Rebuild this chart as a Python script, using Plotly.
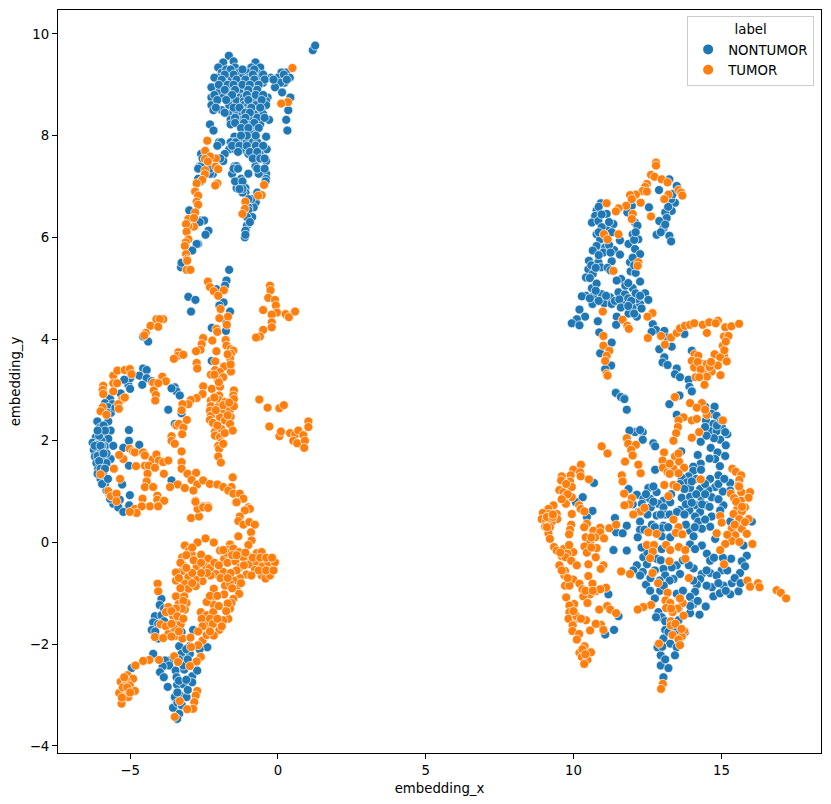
import plotly.graph_objects as go

# puntos, agrupados por zona (embedding_x, embedding_y)
nontumor_top = [(1.18,9.68),(1.26,9.77),(-1.66,9.57),(-1.85,9.44),(-1.5,9.46),(-0.76,9.44),(-2.02,9.34),(-1.45,9.34),(-0.9,9.34),(-0.6,9.34),
(-1.9,9.24),(-1.68,9.24),(-1.32,9.24),(-1.0,9.24),(-0.72,9.24),(0.27,9.24),(0.12,9.24),(-2.02,9.14),(-2.15,9.14),(-1.57,9.14),(-1.2,9.14),(-0.98,9.14),(-0.6,9.14),(-0.25,9.14),(0.0,9.14),(0.4,9.14),(-0.42,9.14),
(-1.82,9.04),(-1.35,9.04),(-0.5,9.04),(-0.8,9.04),(0.22,9.04),(0.08,9.04),(-2.12,8.95),(-2.25,8.95),(-1.9,8.95),(-1.65,8.95),(-1.09,8.95),(-0.85,8.95),(-0.1,8.95),
(-2.0,8.85),(-1.75,8.85),(-0.85,8.85),(-1.3,8.85),(0.14,8.85),(-2.25,8.75),(-1.85,8.75),(-1.28,8.75),(-1.15,8.75),(-0.6,8.75),(-0.35,8.75),(0.42,8.75),
(-1.62,8.68),(-1.4,8.68),(-1.15,8.68),(-0.4,8.68),(-0.8,8.68),(-2.25,8.6),(-1.65,8.6),(-1.15,8.6),(-1.0,8.6),(-0.75,8.6),(-0.4,8.6),(-2.18,8.5),(-1.9,8.5),(-1.45,8.5),(-1.0,8.5),(-0.8,8.5),(-0.55,8.5),(0.35,8.5),
(-1.65,8.42),(-1.4,8.42),(-1.2,8.42),(-0.7,8.42),(-0.5,8.42),(-0.8,8.42),(-1.6,8.31),(-1.3,8.31),(-0.9,8.31),(-0.3,8.31),(0.28,8.31),(-2.3,8.22),(-1.6,8.22),(-1.3,8.22),(-0.6,8.22),(-1.0,8.22),
(-2.18,8.1),(-1.1,8.1),(-0.95,8.1),(-0.8,8.1),(0.32,8.1),(-1.15,8.04),(-0.85,8.04),(-0.95,8.04),(-1.47,7.98),(-0.4,7.98),(-1.5,7.87),(-1.25,7.87),(-1.05,7.87),(-0.85,7.87),(-0.7,7.87),(-1.6,7.87),(-1.42,7.87),(-2.0,7.87),(-1.92,7.87),
(-1.65,7.73),(-1.45,7.73),(-1.15,7.73),(-0.9,7.73),(-0.6,7.73),(-0.38,7.73),(-0.8,7.64),(-0.62,7.64),(-2.6,7.64),(-1.8,7.64),(-1.0,7.64),(-0.4,7.5),(-2.5,7.5),(-1.85,7.5),(-1.47,7.4),(-0.76,7.4),(-1.4,7.4),(-2.65,7.4),(-2.6,7.4),
(-0.4,7.25),(-1.0,7.25),(-0.65,7.25),(-1.55,7.25),(-2.2,7.25),(-2.3,7.25),(-0.4,7.15),(-1.25,7.15),(-2.7,7.15),(-1.2,7.05),(-1.38,7.05),(-1.3,7.05),(-1.4,6.97),(-1.28,6.97),(-1.1,6.97),(-1.1,6.88),(-1.2,6.88),(-0.7,6.88),
(-0.75,6.69),(-1.1,6.69),(-0.82,6.59),(-1.0,6.59),(-3.0,6.53),(-1.0,6.53),(-0.87,6.4),(-1.05,6.4),(-2.6,6.33),(-2.5,6.33),(-1.05,6.23),(-2.35,6.13),(-1.1,6.13),(-1.12,6.0),(-2.7,5.87),(-2.75,5.87),(-2.9,5.74)]

nontumor_top_extra = [(-1.75,9.3),(-1.6,9.3),(-1.2,9.3),(-0.8,9.3),(-1.5,9.2),(-1.8,9.2),(-0.85,9.2),(-0.5,9.2),(0.2,9.2),(-1.9,9.1),(-1.4,9.1),(-1.1,9.1),(-0.8,9.1),(-0.45,9.1),(-0.15,9.1),(0.3,9.1),(-2.0,9.0),(-1.7,9.0),(-1.5,9.0),(-1.2,9.0),(-0.95,9.0),(-0.65,9.0),(-1.8,8.9),(-1.45,8.9),(-1.0,8.9),(-0.7,8.9),(-2.15,8.8),(-1.55,8.8),(-1.05,8.8),(-0.75,8.8),(-0.5,8.8),(-2.05,8.7),(-1.75,8.7),(-1.0,8.7),(-0.55,8.7),(-2.1,8.55),(-1.5,8.55),(-1.3,8.55),(-0.9,8.55),(-0.6,8.55),(-1.8,8.45),(-1.1,8.45),(-0.95,8.45),(-1.45,8.35),(-1.1,8.35),(-0.7,8.35),(-0.45,8.35),(-1.45,8.25),(-1.15,8.25),(-0.8,8.25),(-1.25,8.15),(-1.0,8.15),(-0.65,8.15),(-1.05,8.0),(-0.75,8.0),(-1.25,8.0),(-1.55,7.8),(-1.3,7.8),(-1.05,7.8),(-0.75,7.8),(-0.5,7.8),(-2.05,7.8),(-1.35,7.68),(-0.95,7.68),(-0.7,7.68),(-0.85,7.55),(-0.6,7.55),(-0.45,7.55),(-2.55,7.55),(-1.95,7.55),(-1.5,7.35),(-1.35,7.35),(-0.7,7.35),(-0.45,7.35),(-2.7,7.35),(-2.3,7.35),(-1.45,7.1),(-1.2,7.1),(-0.42,7.1),(-2.6,7.1),(-1.2,6.95),(-1.3,6.95),(-0.9,6.75),(-1.0,6.75),(-2.75,6.3),(-0.95,6.3),(-2.65,6.3),(-2.45,6.05),(-1.1,6.05)]

tumor_top = [(0.49,9.33),(0.34,8.66),(0.11,8.63),(-2.39,7.9),(-2.46,7.7),(-2.1,7.55),(-2.3,7.59),(-2.47,7.54),(-2.37,7.49),(-2.11,7.39),(-2.02,7.34),(-2.46,7.32),(-2.47,7.24),(-2.56,7.13),(-2.75,7.06),(-2.05,7.06),(-2.12,7.02),(-0.47,7.03),(-0.55,6.83),(-0.67,6.82),(-1.1,6.7),(-1.12,6.56),(-1.2,6.46),
(-2.8,6.9),(-2.7,6.82),(-2.75,6.7),(-2.7,6.64),(-2.8,6.49),(-3.03,6.36),(-2.84,6.21),(-3.03,6.22),(-3.11,6.26),(-3.09,6.11),(-3.03,5.96),(-3.12,5.9),(-3.15,5.83),(-3.11,5.67),(-3.08,5.57),(-2.84,6.38),(-3.09,5.36),(-2.96,5.36),(-3.07,5.54)]

nontumor_mid = [(-3.28,5.41),(-3.26,5.5),(-1.65,5.36),(-1.74,5.15),(-1.79,5.05),(-3.03,4.83),(-2.79,4.77),(-2.94,4.54),(-1.84,4.72),(-1.98,4.66),(-1.62,4.54),(-1.76,4.36),(-2.24,4.22),(-1.76,4.16),(-2.24,3.57),(-4.39,3.95),(-4.56,4.05),(-2.08,4.98),
(-4.56,3.42),(-4.44,3.39),(-4.69,3.28),(-4.44,3.23),(-4.27,3.17),(-4.59,3.1),(-5.06,3.1),(-5.0,3.23),(-5.2,3.2),(-5.0,3.02),(-5.32,2.93),(-5.68,2.83),(-5.85,2.74),(-5.6,2.72),(-5.74,2.66),(-3.49,3.05),(-3.43,2.97),(-3.32,2.89),(-3.6,3.03),(-3.71,2.61),(-3.26,2.54),(-3.49,2.33),
(-6.11,2.38),(-5.74,2.38),(-6.02,2.26),(-5.66,2.2),(-5.91,2.13),(-6.16,2.07),(-5.74,2.04),(-5.97,2.0),(-6.27,1.96),(-6.14,1.92),(-5.85,1.89),(-5.57,1.9),(-6.23,1.82),(-6.02,1.75),(-6.19,1.69),(-5.89,1.64),(-5.66,1.64),(-6.14,1.56),(-5.8,1.56),(-6.08,1.45),(-5.91,1.32),(-6.0,1.25),(-5.85,1.15),(-5.8,1.02),
(-5.04,2.21),(-5.04,2.0),(-5.23,1.86),(-4.69,1.92),(-5.04,1.51),(-5.27,1.14),(-5.01,0.93),(-3.6,1.22),(-5.03,0.71),(-5.4,0.69),(-5.57,0.76),(-5.35,0.84),(-5.68,0.86),(-6.1,1.7),(-6.2,1.9),(-6.05,2.1),(-5.95,1.9),(-5.8,1.75),(-6.05,1.6),
(-5.9,2.3),(-5.85,2.2),(-6.1,2.2),(-6.0,1.9),(-5.9,1.75),(-6.1,1.35),(-6.0,1.45),(-5.95,1.15),(-5.7,0.95),(-5.75,1.25),(-5.85,1.45),(-5.65,2.55),(-5.5,2.65),(-5.8,2.55)]

tumor_mid = [(-2.37,5.13),(-2.3,5.02),(-2.17,4.94),(-1.83,4.96),(-2.02,4.85),(-1.94,4.59),(-1.69,4.44),(-1.98,4.41),(-1.73,4.28),(-2.08,4.2),(-2.05,4.14),(-2.53,4.02),(-2.22,3.97),(-1.77,3.98),(-2.58,3.9),(-2.62,3.79),(-2.77,3.76),(-2.08,3.76),(-1.74,3.87),(-1.6,3.8),(-1.51,3.77),(-1.59,3.71),(-1.62,3.62),
(-3.37,3.74),(-3.39,3.67),(-3.52,3.61),(-3.2,3.69),(-2.75,3.53),(-2.73,3.42),(-2.12,3.56),(-1.82,3.46),(-2.13,3.39),(-1.59,3.36),(-2.27,3.3),(-1.96,3.35),(-1.85,3.25),(-2.04,3.2),(-2.53,3.07),(-2.24,3.02),(-1.96,3.06),(-2.55,2.92),(-2.75,2.84),(-1.49,2.99),(-1.51,2.89),(-1.49,2.82),(-1.99,2.89),(-1.99,2.8),(-1.79,2.76),(-2.95,2.8),(-3.03,2.72),(-3.23,2.72),(-3.26,2.6),
(-2.27,2.79),(-2.27,2.68),(-2.02,2.66),(-1.83,2.61),(-1.62,2.61),(-1.49,2.68),(-2.3,2.59),(-2.27,2.49),(-2.3,2.41),(-1.96,2.46),(-1.79,2.4),(-1.6,2.47),(-1.62,2.33),(-2.13,2.18),(-1.91,2.23),(-2.13,2.1),(-1.53,2.2),(-1.96,2.07),(-1.91,1.97),(-2.02,1.9),(-1.99,1.84),(-2.02,1.69),(-1.93,1.57),(-1.85,1.94),
(-0.27,5.05),(-0.25,4.96),(-0.33,4.81),(-0.1,4.77),(-0.07,4.66),(-0.5,4.57),(-0.03,4.52),(-0.21,4.48),(0.26,4.49),(0.37,4.43),(0.58,4.54),(-0.21,4.33),(-0.21,4.23),(-0.5,4.18),(-0.61,4.05),(-0.74,4.03),
(-0.63,2.81),(-0.35,2.65),(0.05,2.64),(0.2,2.7),(-0.29,2.28),(0.05,2.09),(0.1,2.18),(0.41,2.15),(0.58,2.12),(0.69,2.2),(0.86,2.11),(1.03,2.38),(1.03,2.27),(0.52,2.0),(0.65,1.95),(0.91,2.0),(0.89,1.86),
(-4.11,4.39),(-3.88,4.39),(-4.0,4.39),(-4.31,4.26),(-4.05,4.24),(-4.47,4.12),(-4.52,4.07),
(-5.91,3.08),(-5.93,3.0),(-5.91,2.92),(-5.57,3.28),(-5.43,3.38),(-5.18,3.39),(-5.01,3.41),(-4.95,3.31),(-5.57,3.13),(-5.44,3.13),(-5.57,2.97),(-5.26,2.82),(-5.18,2.85),(-5.4,2.72),(-5.38,2.63),(-5.93,2.66),(-6.0,2.58),(-5.8,2.51),(-3.91,3.26),(-3.79,3.17),(-4.22,3.14),(-4.05,3.13),(-4.2,2.99),(-4.13,2.9),(-4.15,2.79),
(-5.01,1.84),(-4.9,1.79),(-4.84,1.77),(-4.56,1.77),(-4.5,1.71),(-4.24,1.63),(-4.11,1.73),(-4.03,1.61),(-3.88,1.58),(-3.71,1.61),(-5.23,1.64),(-5.37,1.72),(-5.55,1.45),(-4.8,1.5),(-4.5,1.51),(-4.37,1.51),(-4.16,1.47),(-4.41,1.35),(-3.86,1.35),(-5.34,1.25),(-6.0,1.34),(-4.44,1.2),(-4.5,1.09),(-4.22,1.09),(-5.74,1.01),(-5.65,0.91),(-5.46,0.96),(-5.46,0.81),(-4.08,0.92),(-4.08,0.84),(-3.85,0.82),(-4.58,0.86),(-4.84,0.66),(-4.59,0.71),(-4.33,0.71),(-4.07,0.71),
(-3.6,2.09),(-3.6,2.0),(-3.49,1.94),(-3.26,1.79),(-3.26,1.58),(-3.26,1.45),(-3.43,2.3),(-3.35,2.33),(-3.2,2.26),(-3.24,2.13),(-3.08,2.41),(-3.06,1.35),(-2.77,1.37),(-2.92,1.23),(-3.39,1.14),(-3.65,1.09),(-3.15,1.07),(-2.73,1.14),(-2.86,1.02),(-2.53,1.22),(-2.3,1.15),(-2.05,1.14),(-1.85,1.09),(-1.53,1.28),(-1.57,1.09),(-1.68,1.02),(-1.51,0.96),(-1.29,0.96),(-1.17,0.86),(-1.42,0.79),(-1.0,0.69),(-2.79,0.82),(-2.7,0.69),(-2.53,0.71),(-2.36,0.71),
(-2.15,2.85),(-2.1,2.6),(-2.2,2.35),(-1.85,2.7),(-1.7,2.5),(-2.05,2.3),(-1.8,2.15),(-1.65,2.75),(-1.6,3.5),(-1.7,3.7),(-2.0,3.15),(-2.15,3.3)]

nontumor_low = [(-5.03,0.73),(-5.4,0.69),(-5.23,0.6),(-3.94,-1.11),(-4.0,-1.23),(-4.16,-1.45),(-3.94,-1.43),(-4.22,-1.57),(-4.27,-1.72),(-4.05,-1.89),(-2.87,-1.72),(-3.26,-1.76),(-3.34,-2.04),(-2.98,-2.04),(-3.26,-2.19),(-2.98,-2.19),(-3.15,-2.32),(-4.22,-2.19),(-3.66,-2.32),(-3.82,-2.32),(-3.68,-2.42),(-3.9,-2.44),(-3.46,-2.52),(-3.17,-2.5),(-3.99,-2.55),(-3.86,-2.65),(-2.9,-2.63),(-2.73,-2.52),(-3.43,-2.65),(-4.95,-2.47),(-3.73,-2.84),(-3.41,-2.8),(-3.2,-2.79),(-2.9,-2.75),(-3.32,-3.0),(-3.09,-3.04),(-3.49,-3.22),(-3.55,-3.25),(-3.34,-3.37),(-3.41,-3.47),(-2.39,-2.06),(-3.49,-3.04),
(-3.85,-1.3),(-3.85,-1.55),(-4.05,-1.6),(-4.15,-1.75),(-3.1,-2.1),(-3.2,-2.42),(-3.35,-2.3),(-3.4,-3.15),(-3.25,-3.2),(-3.4,-2.95),(-3.35,-2.72),(-3.1,-2.7),(-3.05,-2.9),(-2.65,-2.1),(-3.05,-2.3)]

tumor_low = [(-0.95,0.66),(-1.4,0.79),(-1.12,0.63),(-1.29,0.51),(-1.34,0.42),(-1.17,0.35),(-0.97,0.4),(-0.78,0.35),(-0.91,0.2),(-1.34,0.12),(-0.89,0.04),(-1.0,-0.05),(-2.45,0.08),(-2.17,0.0),(-2.72,0.0),(-3.15,-0.06),(-3.01,-0.16),(-3.24,-0.29),(-2.92,-0.22),(-2.6,-0.24),(-1.96,-0.16),(-1.62,-0.04),(-1.68,-0.14),(-1.51,-0.12),(-1.32,-0.19),(-0.97,-0.28),(-0.72,-0.21),(-0.55,-0.19),(-1.82,-0.32),(-1.71,-0.4),(-1.44,-0.37),(-1.17,-0.29),(-2.25,-0.37),(-2.36,-0.32),(-2.47,-0.47),(-2.75,-0.47),(-3.24,-0.56),(-3.2,-0.45),(-3.45,-0.59),
(-1.29,-0.49),(-0.95,-0.43),(-0.72,-0.39),(-0.53,-0.47),(-0.18,-0.47),(-0.33,-0.39),(-0.1,-0.39),(-0.78,-0.54),(-1.06,-0.63),(-0.55,-0.65),(-0.42,-0.71),(-0.27,-0.65),(-1.29,-0.7),(-1.49,-0.75),(-1.85,-0.58),(-2.1,-0.62),(-1.94,-0.7),(-2.28,-0.65),(-2.55,-0.76),(-2.79,-0.73),(-3.03,-0.68),(-3.45,-0.75),(-3.15,-0.81),(-3.03,-0.91),(-2.78,-0.86),(-2.17,-0.91),(-1.79,-0.85),(-1.62,-0.81),(-1.4,-0.91),(-1.31,-1.01),(-1.82,-1.02),(-1.51,-1.11),
(-4.07,-0.81),(-4.05,-0.96),(-3.45,-1.06),(-3.17,-1.06),(-3.09,-1.19),(-3.36,-1.21),(-3.15,-1.32),(-3.71,-1.27),(-3.79,-1.37),(-3.54,-1.45),(-2.25,-1.14),(-2.17,-1.23),(-2.41,-1.17),(-1.57,-1.19),(-1.62,-1.3),(-2.61,-1.37),(-2.41,-1.43),(-2.19,-1.37),(-2.41,-1.6),(-2.58,-1.5),(-1.68,-1.5),(-1.85,-1.53),(-1.98,-1.72),(-3.37,-1.57),(-3.29,-1.61),(-3.97,-1.61),(-3.79,-1.65),(-3.49,-1.7),(-3.71,-1.8),(-4.16,-1.86),(-3.88,-1.88),(-3.47,-1.84),(-3.23,-1.89),(-2.96,-1.87),(-2.55,-1.93),(-2.41,-1.82),(-2.17,-1.83),(-2.7,-2.02),(-2.94,-2.06),
(-2.61,-2.25),(-3.51,-2.24),(-2.75,-2.34),(-3.38,-2.35),(-4.02,-2.31),(-4.35,-2.31),(-4.56,-2.33),(-4.82,-2.42),(-2.98,-2.43),(-5.09,-2.61),(-4.9,-2.68),(-5.32,-2.74),(-5.14,-2.71),(-5.01,-2.81),(-4.84,-2.92),(-5.18,-2.92),(-5.37,-2.96),(-5.18,-3.04),(-5.29,-3.17),(-5.06,-3.04),
(-2.73,-2.92),(-2.78,-3.01),(-2.83,-3.14),(-2.87,-3.27),(-3.07,-3.28),(-3.32,-3.12),(-3.49,-3.43),(-2.94,0.48),(-2.67,0.51),(-2.72,0.66),(-2.53,0.69),(-2.36,0.68),(-2.79,0.8),(-4.33,0.71),(-4.05,0.71),(-4.61,0.71),(-4.78,0.58),(-5.01,0.6),
(-2.9,-0.1),(-3.1,-0.25),(-3.3,-0.4),(-2.85,-0.35),(-2.6,-0.4),(-2.3,-0.5),(-2.15,-0.4),(-2.0,-0.45),(-1.75,-0.2),(-1.55,-0.25),(-1.85,-0.15),(-1.4,-0.25),(-1.1,-0.2),(-0.85,-0.3),(-0.6,-0.3),(-0.4,-0.3),(-0.2,-0.3),(-0.65,-0.55),(-0.4,-0.55),(-0.15,-0.55),(-0.9,-0.65),(-1.15,-0.45),(-1.4,-0.55),(-1.6,-0.6),(-1.7,-0.7),(-1.55,-0.9),(-1.25,-0.8),(-2.4,-0.6),(-2.6,-0.6),(-2.9,-0.6),(-3.1,-0.5),(-3.35,-0.7),(-2.9,-0.8),(-3.3,-0.9),(-3.2,-1.15),(-3.25,-1.3),(-3.45,-1.3),(-3.6,-1.35),(-3.4,-1.45),(-3.2,-1.5),(-2.3,-1.05),(-2.05,-1.05),(-2.0,-1.25),(-1.7,-1.2),(-1.75,-1.35),(-2.3,-1.5),(-2.2,-1.6),(-2.05,-1.5),(-1.9,-1.65),(-2.55,-1.65),(-2.7,-1.75),(-2.3,-1.75),(-3.6,-1.6),(-3.6,-1.85),(-3.35,-1.75),(-5.2,-2.65),(-5.25,-2.85),(-5.1,-2.85),(-5.0,-2.95),(-5.28,-3.05)]

nontumor_right_top = [(10.92,6.67),(10.78,6.53),(10.73,6.42),(10.62,6.29),(11.12,6.46),(10.84,6.32),(11.35,6.26),(11.12,6.16),(10.78,6.06),(11.29,6.1),(11.57,5.94),(10.9,5.96),(10.78,5.83),(11.07,5.8),(11.37,5.75),(10.65,5.74),(11.57,5.66),(10.52,5.54),(10.84,5.51),(11.29,5.53),(10.92,5.41),(10.5,5.37),(10.65,5.28),(10.42,5.21),(11.91,5.51),(11.93,5.33),(12.25,5.13),(11.61,5.18),(11.46,5.15),(10.62,5.0),(10.78,5.09),(10.42,4.85),(10.28,4.84),(10.67,4.84),(10.95,4.88),(10.64,4.69),(11.04,4.7),(11.24,4.82),(11.29,4.69),(11.52,4.92),(11.74,4.88),(12.0,5.0),(11.71,4.72),(12.0,4.62),(12.25,4.69),(12.42,4.9),(12.53,4.77),(12.14,4.79),(11.86,4.5),(12.14,4.44),(11.46,4.44),(10.2,4.58),(10.39,4.44),(10.11,4.39),(9.94,4.31),(10.2,4.27),(10.82,4.35),(11.44,4.28),(10.87,4.13),(11.29,3.93),(10.9,3.72),(11.27,3.48),(11.07,3.41),
(11.97,6.62),(11.82,6.49),(12.08,6.29),(12.16,6.23),(12.0,6.06),(12.19,5.96),(11.86,5.87),(12.08,5.77),(12.25,5.67),(12.0,5.6),(12.89,6.93),(13.24,7.14),(13.43,6.68),(13.32,6.52),(13.1,6.49),(13.15,6.38),(12.9,6.32),(13.04,6.18),(12.81,6.05),(13.24,6.03),(13.3,5.92),(12.55,6.59),(13.49,7.01),
(12.68,4.29),(12.79,4.18),(12.64,4.14),(13.07,4.16),(13.15,4.03),(12.9,3.8),(13.32,3.85),(13.07,3.64),(13.01,3.54),(13.18,3.49),(13.49,3.42),(13.43,3.31),(13.6,3.25),(13.89,3.2),(13.92,3.06),(14.0,2.98),(11.43,2.95),(11.71,2.84),(13.58,2.89),(13.75,4.1),(14.0,3.77),
(10.85,6.6),(10.95,6.45),(11.2,6.3),(10.95,6.2),(10.85,6.1),(11.05,6.05),(11.0,5.7),(10.85,5.65),(11.2,5.85),(11.25,5.7),(10.6,5.45),(10.75,5.4),(11.15,5.4),(11.25,5.35),(10.55,5.2),(10.75,4.95),(10.55,4.8),(10.85,4.75),(11.1,4.85),(11.4,4.75),(11.55,4.78),(11.85,4.8),(11.95,4.75),(12.1,4.9),(12.25,4.85),(11.6,4.62),(11.85,4.65),(12.3,4.6),(12.05,4.5),(11.75,5.05),(11.85,5.1),(12.1,5.3),(12.05,5.45),(12.05,5.95),(12.1,6.1),(13.3,6.75),(13.2,6.6),(13.1,6.25),(12.95,6.1),(13.35,6.85)]

tumor_right_top = [(12.79,7.47),(12.79,7.41),(12.62,7.23),(12.74,7.19),(12.98,7.14),(13.18,7.08),(12.48,7.05),(12.42,6.99),(12.34,6.91),(12.48,6.9),(12.11,6.84),(11.91,6.83),(12.27,6.68),(11.97,6.75),(11.78,6.62),(11.52,6.57),(11.43,6.51),(11.12,6.67),(12.0,6.46),(11.97,6.36),(13.21,6.84),(13.07,6.75),(13.55,6.93),(13.64,6.88),(13.68,6.82),(12.62,6.41),(11.03,6.06),(11.15,5.96),(11.52,6.06),(12.19,5.51),(12.17,5.44),(11.35,5.34),
(10.99,4.54),(12.67,4.51),(12.5,4.44),(11.66,4.38),(11.82,4.26),(11.87,4.2),(11.01,4.06),(12.51,4.02),(12.96,4.06),(13.09,3.89),(13.3,4.03),(13.49,4.12),(13.6,4.21),(13.77,4.26),(13.94,4.28),(14.08,4.31),(14.37,4.28),(14.59,4.33),(14.88,4.36),(14.81,4.31),(15.13,4.23),(15.34,4.25),(15.6,4.3),(14.51,4.12),(15.09,4.05),(15.24,4.06),(15.05,3.87),(15.09,3.67),(14.77,3.7),(14.96,3.64),(15.18,3.56),(14.09,3.7),(14.22,3.67),(14.0,3.57),(14.34,3.51),(14.51,3.51),(14.08,3.44),(14.67,3.36),(14.88,3.48),(14.39,3.32),(14.13,3.25),(14.51,3.26),(14.97,3.29),(14.43,3.1),
(11.01,3.87),(11.21,3.77),(11.12,3.67),(11.07,3.57),(11.12,3.32),(11.15,3.28),(13.42,2.85),(14.2,3.55),(14.3,3.4),(14.6,3.45),(14.25,3.25),(14.65,3.55),(15.1,3.78),(15.15,3.95)]

nontumor_right_low = [(11.43,2.94),(11.6,2.86),(11.72,2.82),(11.8,2.61),(13.58,2.89),(13.24,2.72),(14.0,2.97),(14.77,2.67),(14.45,2.67),(13.49,2.51),(14.67,2.53),(14.84,2.49),(14.48,2.4),(14.73,2.33),(15.01,2.27),(15.2,2.13),(14.62,2.19),(14.84,2.19),(15.13,2.17),(14.45,2.27),(14.96,2.02),(14.3,1.98),(15.15,1.91),(14.64,1.86),(12.7,1.95),(12.76,1.89),(12.34,2.17),(12.34,2.02),(12.08,2.17),(11.89,2.2),(12.25,2.21),(14.87,1.77),(15.13,1.7),(14.2,1.72),(13.64,1.79),(14.79,1.64),(14.3,1.55),(14.05,1.49),(12.76,1.43),(14.05,1.41),(14.31,1.43),(14.9,1.32),(13.89,1.3),(13.66,1.27),(14.62,1.25),(10.69,1.17),(15.3,1.17),(13.83,1.18),(13.6,1.15),(14.79,1.09),(13.94,1.07),(14.28,1.05),(14.56,1.03),(11.86,1.05),(12.53,1.07),(15.3,1.02),(12.14,0.94),(12.81,0.99),(13.66,0.88),(13.94,0.9),(14.31,0.89),(14.67,0.89),(10.31,0.89),(12.36,0.86),(12.59,0.86),(13.04,0.82),(13.27,0.79),(12.87,0.76),(12.31,0.76),(10.08,0.79),(14.15,0.73),(14.48,0.73),(15.07,0.73),(12.61,0.69),(13.04,0.69),(14.96,0.63),(13.6,0.64),(13.92,0.63),(10.64,0.62),(14.28,0.6),(13.1,0.55),(12.81,0.53),(14.67,0.51),(14.11,0.51),(10.45,0.5),(11.4,0.48),(12.25,0.41),(14.22,0.41),(16.03,0.41),(15.3,0.41),(13.04,0.33),(11.8,0.33),(13.94,0.23),(14.62,0.31),(14.34,0.27),(12.98,0.28),(12.25,0.25),(11.44,0.2),(11.66,0.18),(12.17,0.1),(14.79,0.07),(12.98,0.12),(14.06,0.12),(13.27,0.1),
(11.35,-0.15),(11.8,-0.16),(13.94,-0.04),(14.34,-0.06),(15.75,-0.06),(12.98,-0.13),(14.11,-0.13),(15.86,-0.26),(14.51,-0.22),(12.81,-0.32),(12.36,-0.29),(15.33,-0.32),(14.62,-0.36),(15.69,-0.37),(12.95,-0.35),(12.48,-0.43),(12.14,-0.45),(13.49,-0.45),(15.8,-0.47),(13.32,-0.49),(12.02,-0.55),(13.04,-0.52),(12.34,-0.58),(14.06,-0.51),(14.34,-0.62),(14.62,-0.6),(15.01,-0.55),(15.63,-0.6),(13.1,-0.65),(13.6,-0.62),(14.84,-0.65),(13.38,-0.72),(12.91,-0.75),(14.28,-0.72),(15.35,-0.8),(12.45,-0.83),(15.07,-0.85),(14.17,-0.83),(14.68,-0.88),(12.59,-0.95),(12.93,-0.95),(15.58,-0.96),(15.3,-1.02),(13.49,-1.01),(14.11,-0.97),(14.73,-1.06),(13.94,-1.07),(14.47,-1.26),(14.06,-1.21),(14.26,-1.42),(13.94,-1.39),(12.87,-1.37),(12.98,-1.47),(12.79,-1.47),(13.55,-1.53),(13.1,-1.72),(13.77,-1.76),(13.04,-1.89),(12.84,-2.06),(13.27,-1.99),(13.49,-2.06),(12.95,-2.22),(13.43,-2.22),(12.95,-2.42),(13.21,-2.47),(13.04,-2.65),(13.21,-1.76),(13.55,-1.73),(11.07,-1.81),(11.37,-1.72),(11.52,-1.45),(11.18,-1.02),
(14.15,1.25),(14.45,1.15),(14.15,0.95),(14.45,0.95),(13.8,0.75),(14.0,0.78),(14.35,0.75),(12.7,0.8),(12.5,0.55),(12.95,0.55),(13.25,0.55),(12.65,0.35),(12.4,0.25),(12.75,0.3),(13.2,0.3),(14.1,0.3),(14.45,0.45),(13.8,0.35),(12.5,-0.2),(12.75,-0.55),(12.25,-0.65),(13.25,-0.75),(13.05,-0.85),(13.7,-0.95),(14.5,-0.85),(14.9,-0.8),(15.2,-0.55),(15.45,-0.7),(15.65,-0.8),(13.95,-1.25),(14.2,-1.15),(13.1,-1.55),(13.4,-1.65),(13.55,-1.3),(13.0,-2.05),(13.1,-2.3),(14.85,2.3),(14.75,2.05),(14.5,2.1),(15.0,2.4),(14.6,1.65),(14.95,1.5),(15.05,1.0),(14.9,0.85),(14.6,0.7),(13.75,1.05),(14.0,1.2),
(12.0,0.75),(12.2,0.6),(12.45,0.95),(12.7,1.1),(13.3,0.95),(13.5,0.6),(12.3,-0.1),(12.6,-0.7),(12.75,-1.1),(13.75,0.55),(14.9,1.15),(15.1,1.25),(15.05,-0.3),(14.75,-0.3),(14.5,-0.55),(14.95,-1.0),(15.15,-0.95),(13.7,-0.35),(13.9,-0.45),(14.05,-0.75)]

tumor_right_low = [(13.43,2.86),(13.94,2.74),(14.34,2.74),(14.17,2.65),(14.51,2.51),(14.45,2.61),(15.05,2.4),(13.72,2.46),(13.55,2.4),(13.53,2.27),(13.47,2.15),(14.0,2.4),(14.17,2.43),(14.25,2.17),(14.0,2.06),(13.38,2.0),(11.8,2.05),(11.85,1.94),(12.11,1.92),(11.95,1.82),(12.0,1.71),(10.95,1.89),(11.15,1.75),(11.74,1.59),(12.19,1.53),(12.27,1.36),(13.06,1.77),(13.01,1.61),(13.02,1.47),(13.43,1.69),(13.57,1.59),(13.38,1.45),(13.74,1.47),(13.55,1.36),(13.18,1.38),(13.07,1.13),(13.38,1.13),(13.49,1.09),(14.3,1.24),
(15.37,1.45),(15.49,1.39),(15.67,1.32),(15.61,1.23),(15.58,1.12),(15.32,0.96),(15.43,0.87),(15.67,0.99),(15.97,0.99),(15.92,0.88),(15.66,0.82),(15.8,0.69),(15.54,0.66),(15.69,0.61),(15.41,0.56),(14.96,0.52),(15.01,0.39),(15.61,0.46),(15.92,0.46),(15.52,0.33),(15.35,0.27),(15.69,0.27),(15.86,0.17),(14.84,0.18),(15.47,0.14),(15.35,0.03),(15.61,0.01),(15.13,-0.03),(14.96,-0.15),(16.05,-0.03),
(13.21,0.91),(13.38,0.45),(13.55,0.3),(12.53,0.2),(12.81,0.17),(13.46,0.19),(13.68,0.16),(12.48,-0.05),(12.72,-0.05),(13.13,-0.05),(13.27,-0.15),(13.56,-0.09),(13.78,-0.15),(12.68,-0.18),(12.59,-0.31),(13.78,-0.32),(13.24,-0.37),(15.09,-0.43),(12.67,-0.6),(13.9,-0.7),(12.86,-0.8),(13.18,-0.99),(15.88,-0.75),(15.97,-0.87),(16.24,-0.8),(16.29,-0.88),(16.87,-0.94),(17.01,-0.99),(17.19,-1.1),
(13.11,-1.14),(13.27,-1.19),(13.13,-1.29),(13.69,-1.19),(13.52,-1.3),(13.35,-1.37),(13.72,-1.44),(12.62,-1.23),(12.36,-1.27),(12.17,-1.32),(13.29,-1.55),(13.29,-1.63),(13.74,-1.74),(13.35,-1.82),(13.66,-1.85),(13.55,-1.91),(13.6,-2.02),(12.89,-1.99),(13.02,-2.78),(12.96,-2.88),
(10.25,1.53),(9.99,1.43),(10.22,1.38),(10.24,1.3),(9.9,1.32),(9.6,1.3),(9.58,1.22),(9.88,1.2),(10.52,1.24),(9.94,1.09),(9.52,1.03),(9.66,0.99),(9.94,0.89),(9.71,0.9),(9.74,0.76),(10.19,0.73),(10.24,0.66),(10.37,0.61),(9.94,0.56),(9.32,0.73),(9.15,0.66),(8.96,0.58),(8.92,0.46),(9.18,0.56),(9.43,0.56),(9.45,0.46),(9.07,0.43),(9.26,0.4),(9.04,0.31),(9.2,0.3),(9.15,0.18),(9.2,0.07),(10.45,0.37),(10.36,0.3),(9.92,0.35),(9.88,0.25),(9.85,0.16),(11.21,0.28),(11.44,0.35),(10.9,0.29),(10.67,0.23),(10.9,0.2),(11.03,0.08),(10.41,0.1),(10.73,0.1),(10.56,0.0),(10.37,-0.08),(10.78,-0.11),(9.34,-0.09),(9.43,-0.16),(9.66,-0.13),(9.99,-0.19),(9.79,-0.22),(9.6,-0.27),(9.73,-0.29),(9.92,-0.36),(9.52,-0.45),(10.11,-0.45),(10.5,-0.43),(10.75,-0.29),(11.01,-0.45),(10.92,-0.52),(9.71,-0.56),(9.69,-0.65),(10.5,-0.66),(9.99,-0.73),(9.71,-0.85),(9.86,-0.85),(10.2,-0.81),(10.64,-0.81),(10.3,-0.92),(10.75,-0.96),(11.1,-0.89),(10.56,-1.02),(10.33,-1.06),(10.9,-0.92),(9.75,-1.08),(10.47,-1.19),(10.02,-1.21),(9.86,-1.24),(9.86,-1.37),(9.83,-1.5),(10.11,-1.49),(10.42,-1.53),(10.87,-1.32),(11.14,-1.25),(11.24,-1.32),(11.44,-1.39),(10.93,-1.62),(10.75,-1.6),(10.56,-1.73),(11.01,-1.72),(9.97,-1.63),(9.96,-1.74),(10.19,-1.8),(10.11,-1.91),(10.37,-2.04),(10.59,-2.16),(10.2,-2.17),(10.28,-2.25),(10.47,-2.31),(10.36,-2.39),
(11.61,-0.57),(11.91,-0.62),(11.63,1.32),(11.66,1.2),(11.71,0.96),(11.97,0.87),(11.89,0.75),(11.72,0.73),(12.27,0.61),(12.4,0.68),(12.02,0.55),
(9.1,0.5),(9.3,0.5),(9.1,0.3),(9.3,0.55),(9.75,1.15),(9.8,0.95),(9.6,0.85),(10.6,0.1),(10.45,-0.2),(10.6,-0.1),(9.55,-0.2),(9.85,-0.05),(9.6,-0.55),(9.8,-0.7),(10.4,-0.95),(10.65,-0.95),(10.1,-1.45),(10.25,-1.5),(10.0,-1.35),(10.3,-2.1),(10.4,-2.2),(13.25,1.55),(13.25,1.35),(13.55,1.75),(15.5,0.8),(15.7,0.7),(15.45,0.35),(15.8,0.4),(15.2,0.15),(15.6,1.1),(13.3,-1.3),(13.6,-1.1),(13.45,-1.6),(13.65,-1.7)]

labels = ["NONTUMOR", "TUMOR"]
colores = ["#1f77b4", "#ff7f0e"]
x_ticks = [-5, 0, 5, 10, 15]
y_ticks = [-4, -2, 0, 2, 4, 6, 8, 10]

nontumor = nontumor_top + nontumor_top_extra + nontumor_mid + nontumor_low + nontumor_right_top + nontumor_right_low
tumor = tumor_top + tumor_mid + tumor_low + tumor_right_top + tumor_right_low

fig = go.Figure()
for label, color, puntos in zip(labels, colores, [nontumor, tumor]):
    fig.add_trace(go.Scatter(
        x=[p[0] for p in puntos],
        y=[p[1] for p in puntos],
        mode='markers',
        name=label,
        marker=dict(size=9, color=color, line=dict(color='white', width=0.7))
    ))

eje = dict(showgrid=False, zeroline=False, showline=True, mirror=True, linecolor='black', linewidth=1.1,
           ticks='outside', ticklen=5, tickwidth=1.1, tickcolor='black', tickfont=dict(size=13.3))

fig.update_layout(
    width=831,
    height=804,
    margin=dict(l=58, r=10, t=10, b=51),
    plot_bgcolor='white',
    paper_bgcolor='white',
    font=dict(family='DejaVu Sans', size=13.3, color='black'),
    xaxis=dict(title=dict(text='embedding_x', standoff=6, font=dict(size=13.3)), range=[-7.44, 18.37], tickvals=x_ticks, **eje),
    yaxis=dict(title=dict(text='embedding_y', standoff=6, font=dict(size=13.3)), range=[-4.14, 10.47], tickvals=y_ticks, **eje),
    legend=dict(
        title=dict(text='label', side='top center', font=dict(size=13.3)),
        font=dict(size=13.3),
        x=0.991, y=0.992, xanchor='right', yanchor='top',
        bgcolor='rgba(255,255,255,0.8)', bordercolor='#cccccc', borderwidth=1,
        itemsizing='constant', tracegroupgap=0
    )
)

# sin el margen del body la figura queda en 0,0
fig.write_html("out.html", post_script="document.body.style.margin='0';", config=dict(displayModeBar=False))
